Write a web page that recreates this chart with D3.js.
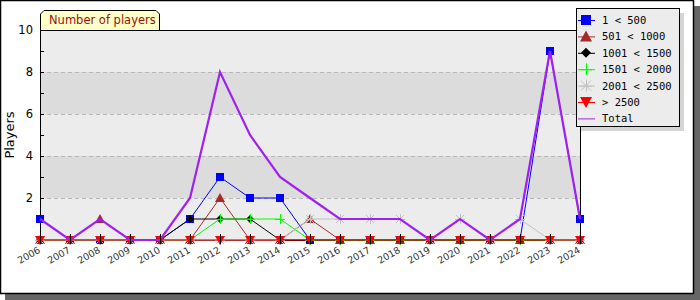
<!DOCTYPE html>
<html>
<head>
<meta charset="UTF-8" />
<title>Number of players</title>
<script src="https://d3js.org/d3.v7.min.js"></script>
<style>
  body { margin: 0; background: #fff; }
  svg text { font-family: "DejaVu Sans", Verdana, sans-serif; }
</style>
</head>
<body>
<svg id="chart" width="700" height="300"></svg>
<script>
// data
var years = [2006, 2007, 2008, 2009, 2010, 2011, 2012, 2013, 2014, 2015, 2016, 2017, 2018, 2019, 2020, 2021, 2022, 2023, 2024]
var s1to500     = [1, 0, 0, 0, 0, 1, 3, 2, 2, 0, 0, 0, 0, 0, 0, 0, 0, 9, 1]
var s501to1000  = [0, 0, 1, 0, 0, 0, 2, 0, 0, 1, 0, 0, 0, 0, 0, 0, 0, 0, 0]
var s1001to1500 = [0, 0, 0, 0, 0, 1, 1, 1, 0, 0, 0, 0, 0, 0, 0, 0, 0, 0, 0]
var s1501to2000 = [0, 0, 0, 0, 0, 0, 1, 1, 1, 0, 0, 0, 0, 0, 0, 0, 0, 0, 0]
var s2001to2500 = [0, 0, 0, 0, 0, 0, 0, 0, 0, 1, 1, 1, 1, 0, 1, 0, 1, 0, 0]
var sOver2500   = [0, 0, 0, 0, 0, 0, 0, 0, 0, 0, 0, 0, 0, 0, 0, 0, 0, 0, 0]
var total       = [1, 0, 1, 0, 0, 2, 8, 5, 3, 2, 1, 1, 1, 0, 1, 0, 1, 9, 1]
var yTicks = [2, 4, 6, 8, 10]

var series = [
  {name: "1 < 500",     values: s1to500,     color: "#0000ff", symbol: "square"},
  {name: "501 < 1000",  values: s501to1000,  color: "#a52a2a", symbol: "triangle"},
  {name: "1001 < 1500", values: s1001to1500, color: "#000000", symbol: "diamond"},
  {name: "1501 < 2000", values: s1501to2000, color: "#00ff00", symbol: "plus"},
  {name: "2001 < 2500", values: s2001to2500, color: "#c0c0c0", symbol: "star"},
  {name: "> 2500",      values: sOver2500,   color: "#ff0000", symbol: "down"},
  {name: "Total",       values: total,       color: "#a020f0", symbol: "none"}
]

var svg = d3.select("#chart")

// frame with shadow
svg.append("rect").attr("x", 5).attr("y", 6).attr("width", 695).attr("height", 294).attr("fill", "#666")
svg.append("rect").attr("x", 0.5).attr("y", 0.5).attr("width", 693).attr("height", 293)
  .attr("fill", "#fff").attr("stroke", "#000").attr("stroke-width", 1.5)

var pLeft = 40, pRight = 580, pTop = 30, pBottom = 240
var x = d3.scalePoint().domain(years).range([pLeft, pRight])
var y = d3.scaleLinear().domain([0, 10]).range([pBottom, pTop])

// bands
var bands = [0, 2, 4, 6, 8]
svg.selectAll(".band").data(bands).enter().append("rect")
  .attr("x", pLeft).attr("width", pRight - pLeft)
  .attr("y", d => y(d + 2)).attr("height", d => y(d) - y(d + 2))
  .attr("fill", (d, i) => i % 2 ? "#dcdcdc" : "#ececec")

// dashed grid
svg.selectAll(".grid").data([2, 4, 6, 8]).enter().append("line")
  .attr("x1", pLeft).attr("x2", pRight)
  .attr("y1", d => y(d) + 0.5).attr("y2", d => y(d) + 0.5)
  .attr("stroke", "#b8b8b8").attr("stroke-dasharray", "4,3")

// plot border
svg.append("rect").attr("x", pLeft + 0.5).attr("y", pTop + 0.5)
  .attr("width", pRight - pLeft).attr("height", pBottom - pTop)
  .attr("fill", "none").attr("stroke", "#000")

// y ticks
svg.selectAll(".ytick").data(d3.range(1, 10)).enter().append("line")
  .attr("x1", pLeft).attr("x2", pLeft + 4)
  .attr("y1", d => y(d) + 0.5).attr("y2", d => y(d) + 0.5)
  .attr("stroke", "#000")
svg.selectAll(".ylab").data(yTicks).enter().append("text")
  .attr("x", 33).attr("y", d => y(d) + 4)
  .attr("text-anchor", "end").attr("font-size", 11.5).attr("fill", "#000")
  .text(d => d)

svg.append("text")
  .attr("transform", "translate(14," + ((pTop + pBottom) / 2) + ") rotate(-90)")
  .attr("text-anchor", "middle").attr("font-size", 13).attr("fill", "#000")
  .text("Players")

// x labels
svg.selectAll(".xlab").data(years).enter().append("text")
  .attr("transform", d => "translate(" + (x(d) + 1) + ",252) rotate(-30)")
  .attr("text-anchor", "end").attr("font-size", 9.5).attr("fill", "#333")
  .text(d => d)

// title tab
var tx0 = 40, tx1 = 160, ty0 = 10, ty1 = 30
svg.append("path")
  .attr("d", "M" + (tx0 + 0.5) + "," + ty1 + " L" + (tx0 + 0.5) + "," + (ty0 + 4) + " L" + (tx0 + 4) + "," + (ty0 + 0.5) +
    " L" + (tx1 - 4) + "," + (ty0 + 0.5) + " L" + (tx1 - 0.5) + "," + (ty0 + 4) + " L" + (tx1 - 0.5) + "," + ty1)
  .attr("fill", "#ffffc8").attr("stroke", "#000")
svg.append("text").attr("x", 49).attr("y", 24).attr("font-size", 11.5).attr("fill", "#991111")
  .text("Number of players")

function marker(g, sym, color, cx, cy, r) {
  r = r || 4
  if (sym == "square") {
    g.append("rect").attr("x", cx - r).attr("y", cy - r).attr("width", 2 * r).attr("height", 2 * r).attr("fill", color)
  } else if (sym == "triangle") {
    g.append("path").attr("d", "M" + cx + "," + (cy - r - 1) + "L" + (cx + r + 1) + "," + (cy + r) + "L" + (cx - r - 1) + "," + (cy + r) + "Z").attr("fill", color)
  } else if (sym == "down") {
    g.append("path").attr("d", "M" + (cx - r - 1) + "," + (cy - r) + "L" + (cx + r + 1) + "," + (cy - r) + "L" + cx + "," + (cy + r + 1) + "Z").attr("fill", color)
  } else if (sym == "diamond") {
    g.append("path").attr("d", "M" + cx + "," + (cy - r) + "L" + (cx + r) + "," + cy + "L" + cx + "," + (cy + r) + "L" + (cx - r) + "," + cy + "Z").attr("fill", color)
  } else if (sym == "plus") {
    g.append("path").attr("d", "M" + (cx - r - 1) + "," + (cy + 0.5) + "H" + (cx + r + 1) + "M" + (cx + 0.5) + "," + (cy - r - 1) + "V" + (cy + r + 1))
      .attr("stroke", color).attr("fill", "none")
  } else if (sym == "star") {
    g.append("path").attr("d", "M" + (cx - r - 1) + "," + (cy + 0.5) + "H" + (cx + r + 1) + "M" + (cx + 0.5) + "," + (cy - r - 1) + "V" + (cy + r + 1) +
      "M" + (cx - r) + "," + (cy - r) + "L" + (cx + r) + "," + (cy + r) + "M" + (cx + r) + "," + (cy - r) + "L" + (cx - r) + "," + (cy + r))
      .attr("stroke", color).attr("fill", "none")
  }
}

var line = d3.line().x((d, i) => x(years[i])).y(d => y(d))

series.forEach(function (s) {
  var g = svg.append("g")
  g.append("path").attr("d", line(s.values)).attr("fill", "none")
    .attr("stroke", s.color).attr("stroke-width", s.symbol == "none" ? 2.2 : 1)
  s.values.forEach(function (v, i) {
    marker(g, s.symbol, s.color, x(years[i]), y(v))
  })
})

// x ticks over the markers
svg.selectAll(".xtick").data(years).enter().append("line")
  .attr("x1", d => x(d) + 0.5).attr("x2", d => x(d) + 0.5)
  .attr("y1", pBottom - 6).attr("y2", pBottom + 4)
  .attr("stroke", "#000")

// legend
var lx = 576, ly = 8, lw = 103, lh = 118
svg.append("rect").attr("x", lx + 5).attr("y", ly + 5).attr("width", lw).attr("height", lh).attr("fill", "#d4d4d4")
svg.append("rect").attr("x", lx + 0.5).attr("y", ly + 0.5).attr("width", lw).attr("height", lh)
  .attr("fill", "#ececec").attr("stroke", "#000")
series.forEach(function (s, i) {
  var g = svg.append("g")
  var cy = ly + 12 + i * 16.4
  g.append("line").attr("x1", lx + 2).attr("x2", lx + 19).attr("y1", cy + 0.5).attr("y2", cy + 0.5)
    .attr("stroke", s.color)
  marker(g, s.symbol, s.color, lx + 10, cy, 5)
  g.append("text").attr("x", lx + 26).attr("y", cy + 4)
    .style("font-family", "'DejaVu Sans Mono', monospace").attr("font-size", 10.5).attr("fill", "#000")
    .text(s.name)
})
</script>
</body>
</html>
